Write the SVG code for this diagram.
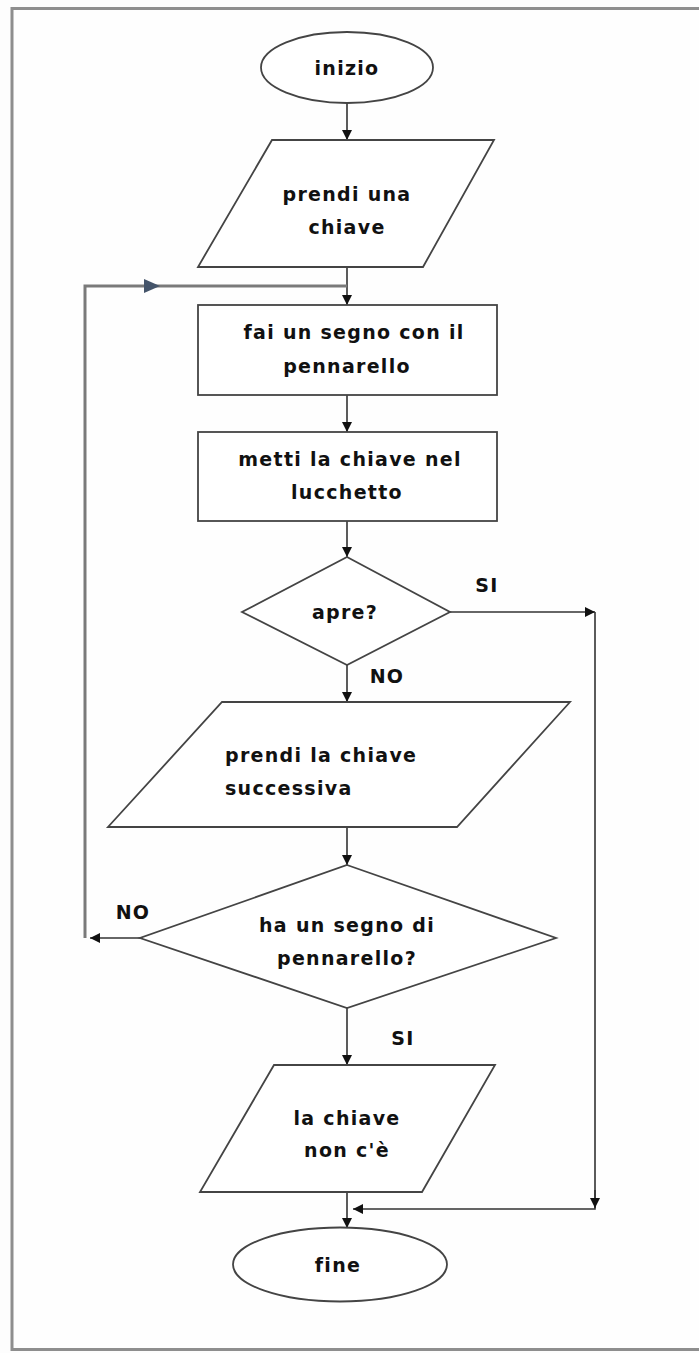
<svg xmlns="http://www.w3.org/2000/svg" width="699" height="1353" viewBox="0 0 699 1353">
<defs>
<style>
.shape{fill:#fff;stroke:#444;stroke-width:1.8}
.t{font-family:"DejaVu Sans","Liberation Sans",sans-serif;font-weight:bold;font-size:19px;letter-spacing:1.3px;fill:#111;text-anchor:middle;dominant-baseline:central}
.tl{text-anchor:start}
.c{fill:none;stroke:#333;stroke-width:1.6}
.loop{fill:none;stroke:#7a7a7a;stroke-width:3}
</style>
<marker id="ah" viewBox="0 0 10 10" refX="10" refY="5" markerWidth="10" markerHeight="10" markerUnits="userSpaceOnUse" orient="auto">
<path d="M0,0 L10,5 L0,10 z" fill="#111"/>
</marker>
</defs>
<rect x="0" y="0" width="699" height="1353" fill="#fdfdfd"/>
<rect x="12" y="8.5" width="700" height="1341" fill="#fefefe" stroke="#8e8e8e" stroke-width="3"/>
<g id="connectors">
<line class="c" x1="347" y1="103" x2="347" y2="140" marker-end="url(#ah)"/>
<line class="c" x1="347" y1="267" x2="347" y2="305" marker-end="url(#ah)"/>
<line class="c" x1="347" y1="395" x2="347" y2="432" marker-end="url(#ah)"/>
<line class="c" x1="347" y1="521" x2="347" y2="557" marker-end="url(#ah)"/>
<line class="c" x1="347" y1="665" x2="347" y2="702" marker-end="url(#ah)"/>
<line class="c" x1="347" y1="827" x2="347" y2="865" marker-end="url(#ah)"/>
<line class="c" x1="347" y1="1008" x2="347" y2="1065" marker-end="url(#ah)"/>
<line class="c" x1="347" y1="1192" x2="347" y2="1228" marker-end="url(#ah)"/>
<line class="c" x1="450" y1="612" x2="595" y2="612" marker-end="url(#ah)"/>
<polyline class="c" points="595,612 595,1209 353,1209" marker-end="url(#ah)"/>
<line class="c" x1="595" y1="1190" x2="595" y2="1208" marker-end="url(#ah)"/>
<line class="c" x1="140" y1="938" x2="90" y2="938" marker-end="url(#ah)"/>
<polyline class="loop" points="85,938 85,286 347,286"/>
<path d="M144,279 L160,286 L144,293 z" fill="#44546a"/>
<text class="t" x="487" y="585">SI</text>
<text class="t" x="387" y="676">NO</text>
<text class="t" x="133" y="912">NO</text>
<text class="t" x="403" y="1038">SI</text>
</g>
<g id="inizio">
<ellipse class="shape" cx="347" cy="67.5" rx="86" ry="35.5"/>
<text class="t" x="347" y="68">inizio</text>
</g>
<g id="prendi-chiave">
<polygon class="shape" points="272,140 494,140 423,267 198,267"/>
<text class="t" x="347" y="194">prendi una</text>
<text class="t" x="347" y="227">chiave</text>
</g>
<g id="segno">
<rect class="shape" x="198" y="305" width="299" height="90"/>
<text class="t" x="354" y="332">fai un segno con il</text>
<text class="t" x="347" y="366">pennarello</text>
</g>
<g id="metti">
<rect class="shape" x="198" y="432" width="299" height="89"/>
<text class="t" x="350" y="459">metti la chiave nel</text>
<text class="t" x="347" y="492">lucchetto</text>
</g>
<g id="apre">
<polygon class="shape" points="347,557 450,612 347,665 242,612"/>
<text class="t" x="345" y="612">apre?</text>
</g>
<g id="successiva">
<polygon class="shape" points="222,702 570,702 457,827 108,827"/>
<text class="t tl" x="225" y="755">prendi la chiave</text>
<text class="t tl" x="225" y="788">successiva</text>
</g>
<g id="segno-check">
<polygon class="shape" points="347,865 556,938 347,1008 140,938"/>
<text class="t" x="347" y="925">ha un segno di</text>
<text class="t" x="347" y="958">pennarello?</text>
</g>
<g id="non-ce">
<polygon class="shape" points="274,1065 495,1065 422,1192 200,1192"/>
<text class="t" x="347" y="1118">la chiave</text>
<text class="t" x="347" y="1150">non c'è</text>
</g>
<g id="fine">
<ellipse class="shape" cx="340" cy="1264.5" rx="107" ry="37"/>
<text class="t" x="338" y="1265">fine</text>
</g>
</svg>
